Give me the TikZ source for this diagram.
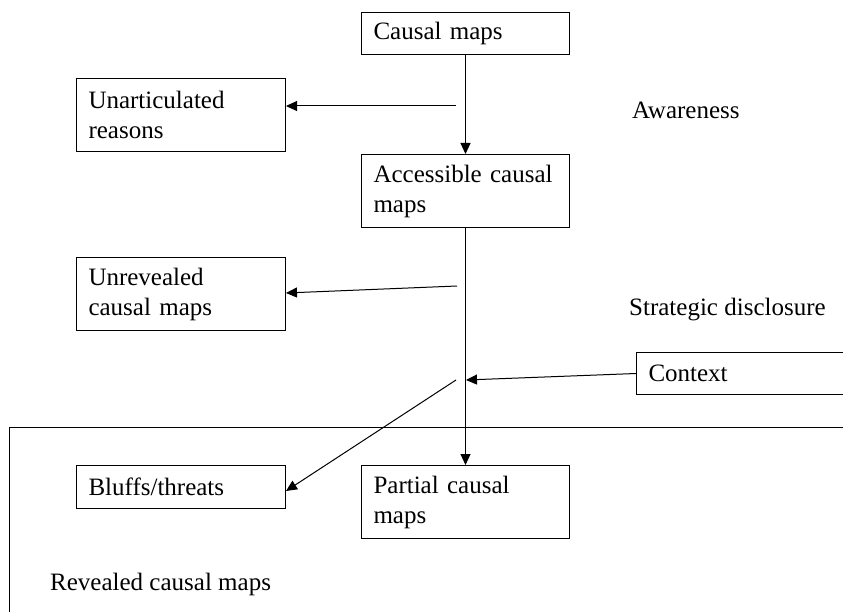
\documentclass[tikz,border=0pt]{standalone}
\usepackage{fontspec}
\setmainfont{Liberation Serif}
\usetikzlibrary{arrows.meta}

\begin{document}
\begin{tikzpicture}[x=1pt,y=-1pt,
  every node/.style={font=\fontsize{25}{30}\selectfont},
  box/.style={draw, line width=1pt, anchor=north west, inner xsep=12pt, inner ysep=0pt,
    text width=#1-24pt, align=left, minimum height=42pt},
  box/.default=208pt,
  tall/.style={minimum height=73pt},
  lbl/.style={anchor=base west, inner sep=0pt},
  link/.style={line width=1pt},
  arr/.style={link, -{Triangle[length=11pt,width=10pt]}}
]
\useasboundingbox (0,0) rectangle (843,612);
\clip (0,0) rectangle (843,612);

% outer frame of the revealed region (runs off the right and bottom)
\draw[line width=1pt] (900,427) -- (9,427) -- (9,700);

% boxes
\node[box] (cm) at (361,12) {Causal maps};
\node[box=209pt, tall] (ua) at (76,78) {Unarticulated\\reasons};
\node[box, tall] (acc) at (361,154) {Accessible causal\\maps};
\node[box=209pt, tall] (ur) at (76,257) {Unrevealed\\causal maps};
\node[box=300pt] (ctx) at (636,352) {Context};
\node[box=209pt, minimum height=43pt] (bt) at (76,465) {Bluffs/threats};
\node[box, tall] (pcm) at (361,465) {Partial causal\\maps};

% labels
\node[lbl] (aw) at (632,119) {Awareness};
\node[lbl] (sd) at (629,316) {Strategic disclosure};
\node[lbl] (rcm) at (50,590) {Revealed causal maps};

% branch points along the main flow
\coordinate (b1) at (456,106);
\coordinate (b2) at (457,286);
\coordinate (b3) at (466,380);
\coordinate (b4) at (456,380);

% main flow
\draw[arr] (cm.south) -- (acc.north);
\draw[arr] (acc.south) -- (pcm.north);

% side branches
\draw[arr] (b1) -- (b1 -| ua.east);
\draw[arr] (b2) -- ([yshift=1pt]ur.west -| ur.east);
\draw[arr] (ctx.west) -- (b3);
\draw[arr] (b4) -- ([yshift=-4pt]bt.east);
\end{tikzpicture}
\end{document}
